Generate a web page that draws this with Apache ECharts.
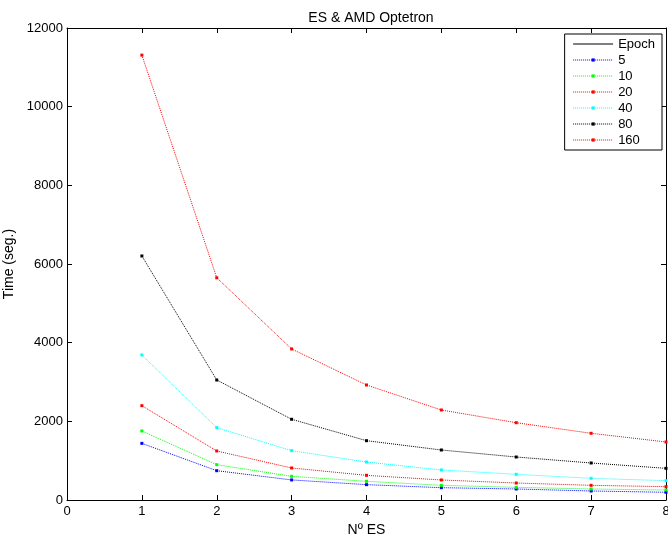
<!DOCTYPE html>
<html><head><meta charset="utf-8">
<script src="https://cdn.jsdelivr.net/npm/echarts@6/dist/echarts.min.js"></script>
<style>html,body{margin:0;padding:0;background:#fff}#c{width:668px;height:541px}</style>
</head><body><div id="c"></div>
<script>
const xValues = [1, 2, 3, 4, 5, 6, 7, 8];
const seriesNames = ['5', '10', '20', '40', '80', '160'];
const s5 = [1440, 745, 510, 390, 313, 280, 229, 196];
const s10 = [1755, 898, 602, 475, 373, 322, 280, 254];
const s20 = [2398, 1246, 814, 627, 509, 432, 373, 339];
const s40 = [3687, 1839, 1254, 966, 763, 653, 551, 491];
const s80 = [6204, 3051, 2052, 1508, 1271, 1093, 941, 805];
const s160 = [11310, 5650, 3840, 2924, 2288, 1965, 1696, 1475];
const colors = ['#0000ff', '#00ff00', '#ff0000', '#00ffff', '#000000', '#ff0000'];
const allData = [s5, s10, s20, s40, s80, s160];

const font = 'Liberation Sans, Arial, sans-serif';
const chart = echarts.init(document.getElementById('c'), null, {renderer: 'canvas'});
const series = [{
  name: 'Epoch', type: 'line', data: [], symbol: 'none',
  lineStyle: {color: '#000', width: 1, type: 'solid'}, itemStyle: {color: '#000'}
}];
seriesNames.forEach((n, i) => {
  series.push({
    name: n, type: 'line', xAxisIndex: 0, yAxisIndex: 0,
    data: xValues.map((x, j) => [x, allData[i][j]]),
    symbol: 'rect', symbolSize: 3, showSymbol: true,
    lineStyle: {color: colors[i], width: 1, type: [1, 1]},
    itemStyle: {color: colors[i]},
    emphasis: {disabled: true}, animation: false
  });
});
const axisCommon = {
  axisLine: {show: true, onZero: false, lineStyle: {color: '#000', width: 1}},
  axisTick: {show: true, inside: true, length: 5, lineStyle: {color: '#000'}},
  splitLine: {show: false}
};
chart.setOption({
  animation: false,
  title: {text: 'ES & AMD Optetron', left: 366, textAlign: 'center', top: 6,
    textStyle: {fontFamily: font, fontSize: 14, fontWeight: 'normal', color: '#000'}},
  grid: {left: 67, top: 28, right: 2, bottom: 41, containLabel: false, outerBoundsMode: 'none'},
  xAxis: [
    Object.assign({type: 'value', min: 0, max: 8, interval: 1, position: 'bottom',
      name: 'Nº ES', nameLocation: 'middle', nameGap: 20,
      nameTextStyle: {fontFamily: font, fontSize: 14, color: '#000'},
      axisLabel: {fontFamily: font, fontSize: 13, color: '#000', margin: 5}}, axisCommon),
    Object.assign({type: 'value', min: 0, max: 8, interval: 1, position: 'top',
      axisLabel: {show: false}}, axisCommon)
  ],
  yAxis: [
    Object.assign({type: 'value', min: 0, max: 12000, interval: 2000, position: 'left',
      name: 'Time (seg.)', nameLocation: 'middle', nameGap: 47, nameRotate: 90,
      nameTextStyle: {fontFamily: font, fontSize: 14, color: '#000'},
      axisLabel: {fontFamily: font, fontSize: 13, color: '#000', margin: 4,
        formatter: v => String(v)}}, axisCommon),
    Object.assign({type: 'value', min: 0, max: 12000, interval: 2000, position: 'right',
      axisLabel: {show: false}}, axisCommon)
  ],
  legend: {
    orient: 'vertical', right: 6, top: 34,
    data: [{name: 'Epoch', itemStyle: {color: 'rgba(0,0,0,0)'}}].concat(seriesNames),
    backgroundColor: '#fff', borderColor: '#000', borderWidth: 1, borderRadius: 0,
    padding: [3, 7, 3, 8], itemWidth: 40, itemHeight: 4, itemGap: 2,
    lineStyle: {width: 1},
    textStyle: {fontFamily: font, fontSize: 13, lineHeight: 14, color: '#000'},
    selectedMode: false
  },
  series: series
});
</script></body></html>
